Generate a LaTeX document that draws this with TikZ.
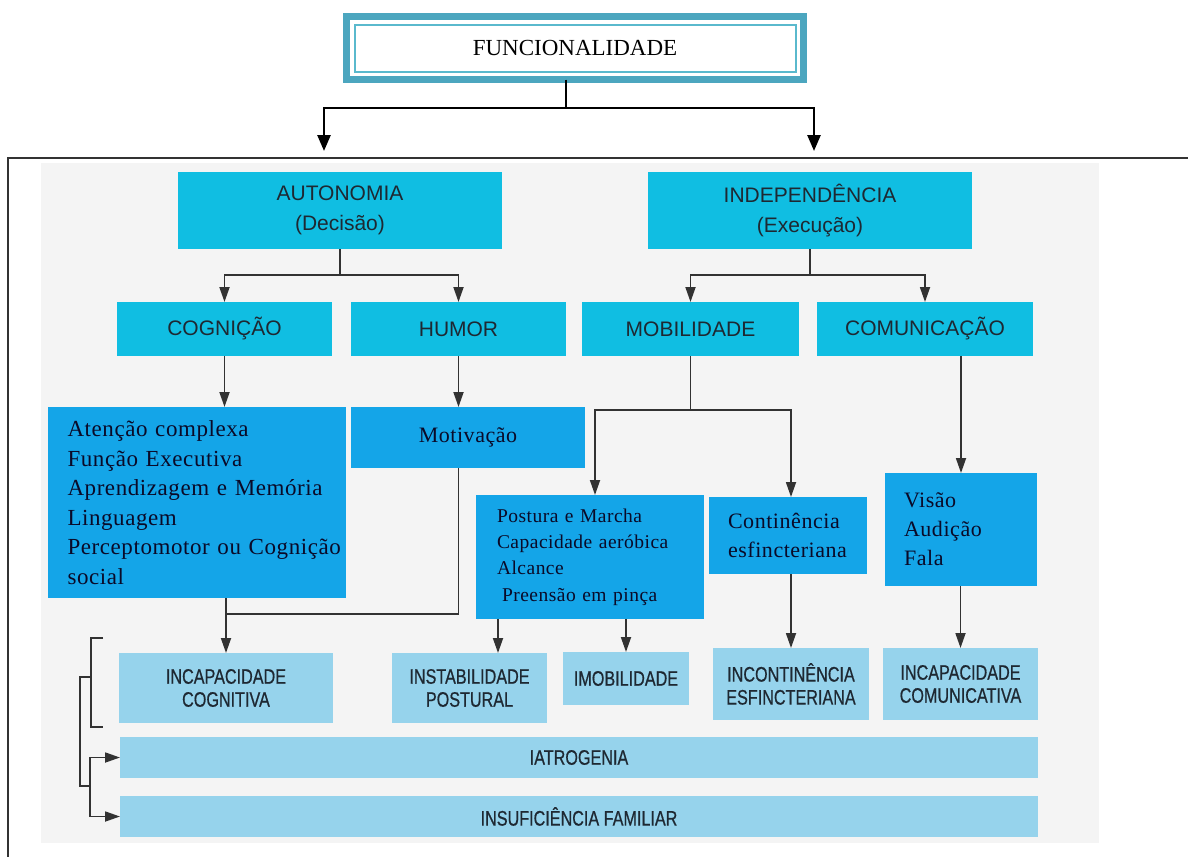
\documentclass[tikz,border=0pt]{standalone}
\usepackage{fontspec}
\setmainfont{Liberation Serif}
\newfontfamily\sansf{Liberation Sans}
\newfontfamily\condf[FakeStretch=0.77,FakeBold=0.6]{Liberation Sans}
\newfontfamily\serifls[LetterSpace=2.5]{Liberation Serif}
\usetikzlibrary{arrows.meta}
\definecolor{cyanbox}{RGB}{16,190,226}
\definecolor{bluebox}{RGB}{20,165,232}
\definecolor{lightbox}{RGB}{150,211,236}
\definecolor{panel}{RGB}{244,244,244}
\definecolor{tealframe}{RGB}{76,166,191}
\definecolor{tealline}{RGB}{90,185,205}
\definecolor{connc}{RGB}{50,50,50}
\definecolor{txtdark}{RGB}{30,40,50}
\definecolor{serifc}{RGB}{10,10,40}
\begin{document}
\begin{tikzpicture}[x=1pt,y=-1pt,
 cbox/.style={fill=cyanbox, inner sep=0pt, outer sep=0pt, align=center, text=txtdark, font=\sansf\fontsize{21}{30}\selectfont},
 lbox/.style={fill=bluebox, inner sep=0pt, outer sep=0pt, text=serifc, align=left, font=\serifls\fontsize{22}{29}\selectfont},
 pbox/.style={fill=lightbox, inner sep=0pt, outer sep=0pt, align=center, text=txtdark, font=\condf\fontsize{21}{23}\selectfont},
 cline/.style={draw=connc, line width=1.8pt},
 carr/.style={cline, -{Triangle[width=10pt,length=15pt]}},
 tline/.style={draw=black, line width=2.6pt},
 tarr/.style={tline, -{Triangle[width=13pt,length=16pt]}}
]
\useasboundingbox (0,0) rectangle (1188,857);
\fill[panel] (41,163) rectangle (1099,843);
\draw[black!80, line width=2pt] (1188,158) -- (8,158) -- (8,857);

% top box
\node[draw=tealframe, line width=7pt, fill=white, minimum width=457, minimum height=63, inner sep=0pt, outer sep=0pt, font=\fontsize{23}{28}\selectfont] (fun) at (575,48) {FUNCIONALIDADE};
\draw[tealline, line width=2pt] ([shift={(8,8)}]fun.north west) rectangle ([shift={(-8,-8)}]fun.south east);
\coordinate (tj) at (566,108);
\coordinate (tl) at (324,151);
\coordinate (tr) at (814,151);
\draw[tline] ([xshift=-9pt]fun.south) -- (tj);
\draw[tarr] (tj) -| (tl);
\draw[tarr] (tj) -| (tr);

% level 1
\node[cbox, minimum width=324, minimum height=77] (aut) at (340,210.5) {AUTONOMIA\\(Decisão)};
\node[cbox, minimum width=324, minimum height=77] (ind) at (810,210.5) {INDEPENDÊNCIA\\(Execução)};
% level 2
\node[cbox, minimum width=215, minimum height=54] (cog) at (224.5,329) {COGNIÇÃO};
\node[cbox, minimum width=215, minimum height=54] (hum) at (458.5,329) {HUMOR};
\node[cbox, minimum width=217, minimum height=54] (mob) at (690.5,329) {MOBILIDADE};
\node[cbox, minimum width=216, minimum height=54] (com) at (925,329) {COMUNICAÇÃO};
% level 3
\node[lbox, minimum width=298, minimum height=191, text width=259, font=\serifls\fontsize{23}{29.5}\selectfont] (ate) at (197,502.5)
 {\mbox{Atenção complexa}\\\mbox{Função Executiva}\\\mbox{Aprendizagem e Memória}\\\mbox{Linguagem}\\\mbox{Perceptomotor ou Cognição}\\\mbox{social}};
\node[lbox, align=center, minimum width=234, minimum height=61] (mot) at (468,437.5) {Motivação};
\node[lbox, minimum width=228, minimum height=124, text width=186, font=\serifls\fontsize{19.5}{26.3}\selectfont] (pos) at (590,557)
 {\mbox{Postura e Marcha}\\\mbox{Capacidade aeróbica}\\\mbox{Alcance}\\\mbox{\hspace{5pt}Preensão em pinça}};
\node[lbox, minimum width=158, minimum height=77, text width=120] (con) at (788,535.5)
 {\mbox{Continência}\\\mbox{esfincteriana}};
\node[lbox, minimum width=152, minimum height=113, text width=114] (vis) at (961,529.5)
 {\mbox{Visão}\\\mbox{Audição}\\\mbox{Fala}};
% bottom
\node[pbox, minimum width=214, minimum height=70] (icog) at (226,688) {INCAPACIDADE\\COGNITIVA};
\node[pbox, minimum width=155, minimum height=70] (inst) at (469.5,688) {INSTABILIDADE\\POSTURAL};
\node[pbox, minimum width=126, minimum height=53] (imob) at (626,678.5) {IMOBILIDADE};
\node[pbox, minimum width=156, minimum height=72] (inco) at (791,684) {INCONTINÊNCIA\\ESFINCTERIANA};
\node[pbox, minimum width=155, minimum height=72] (icom) at (960.5,684) {INCAPACIDADE\\COMUNICATIVA};
\node[pbox, minimum width=918, minimum height=41] (iat) at (579,757.5) {IATROGENIA};
\node[pbox, minimum width=918, minimum height=41] (ins) at (579,816.5) {INSUFICIÊNCIA FAMILIAR};

% connectors
\coordinate (aj) at (340,275);
\draw[cline] (aut.south) -- (aj);
\draw[carr] (aj) -| (cog.north);
\draw[carr] (aj) -| (hum.north);
\coordinate (ij) at (810,275);
\draw[cline] (ind.south) -- (ij);
\draw[carr] (ij) -| (mob.north);
\draw[carr] (ij) -| (com.north);
\draw[carr] (cog.south) -- (cog.south |- ate.north);
\draw[carr] (hum.south) -- (hum.south |- mot.north);
\coordinate (mj) at (690.5,410);
\draw[cline] (mob.south) -- (mj);
\draw[carr] (mj) -| ([xshift=5pt]pos.north);
\draw[carr] (mj) -| ([xshift=3pt]con.north);
\draw[carr] (vis.north |- com.south) -- (vis.north);
\draw[carr] (icog.north |- ate.south) -- (icog.north);
\coordinate (mt) at (458.5,614);
\draw[cline] (hum.south |- mot.south) -- (mt) -- (mt -| icog.north);
\draw[carr] ([xshift=-92pt]pos.south) -- ([xshift=28.5pt]inst.north);
\draw[carr] (imob.north |- pos.south) -- (imob.north);
\draw[carr] (inco.north |- con.south) -- (inco.north);
\draw[carr] (icom.north |- vis.south) -- (icom.north);

% bracket
\coordinate (b1) at (103,638);
\coordinate (b2) at (91,638);
\coordinate (b3) at (91,727);
\coordinate (b4) at (103,727);
\coordinate (bm) at (91,677);
\coordinate (bl) at (80,677);
\coordinate (bd) at (80,786);
\coordinate (be) at (90,786);
\draw[cline] (b1) -- (b2) -- (b3) -- (b4);
\draw[cline] (bm) -- (bl) -- (bd) -- (be);
\draw[carr] (be) |- (iat.west);
\draw[carr] (be) |- (ins.west);
\end{tikzpicture}
\end{document}
